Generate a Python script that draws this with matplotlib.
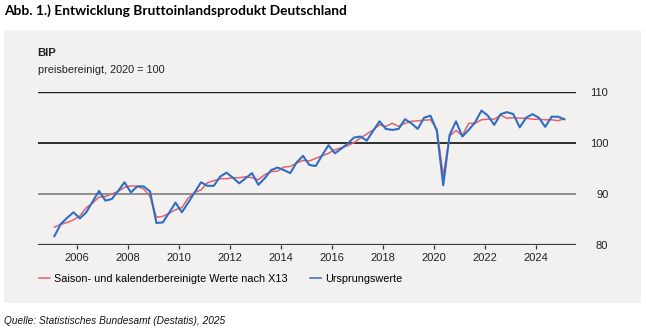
import matplotlib
matplotlib.use("Agg")
import matplotlib.pyplot as plt
from matplotlib.patches import Rectangle
from matplotlib.lines import Line2D
import numpy as np

# quarterly values 2005 Q1 - 2025 Q1, index 2020 = 100
start_year = 2005
orig_values = [
    81.7, 84.1, 85.3, 86.4,      # 2005
    85.2, 86.4, 88.5, 90.6,      # 2006
    88.7, 89.0, 90.6, 92.3,      # 2007
    90.3, 91.5, 91.5, 90.5,      # 2008
    84.3, 84.4, 86.3, 88.3,      # 2009
    86.4, 88.3, 90.3, 92.3,      # 2010
    91.6, 91.6, 93.4, 94.2,      # 2011
    93.2, 92.1, 93.1, 94.1,      # 2012
    91.8, 93.1, 94.7, 95.2,      # 2013
    94.7, 94.1, 96.2, 97.5,      # 2014
    95.7, 95.5, 97.6, 99.6,      # 2015
    98.0, 98.9, 99.9, 101.1,     # 2016
    101.3, 100.5, 102.4, 104.3,  # 2017
    102.8, 102.6, 102.8, 104.7,  # 2018
    103.9, 102.8, 105.0, 105.4,  # 2019
    102.4, 91.7, 101.6, 104.3,   # 2020
    101.3, 102.6, 104.1, 106.4,  # 2021
    105.4, 103.6, 105.7, 106.1,  # 2022
    105.7, 103.1, 105.0, 105.7,  # 2023
    105.0, 103.2, 105.2, 105.2,  # 2024
    104.7,                       # 2025
]
sa_values = [
    83.5, 84.0, 84.4, 84.9,      # 2005
    85.7, 87.3, 88.2, 89.4,      # 2006
    89.5, 90.0, 90.5, 91.3,      # 2007
    91.6, 91.5, 91.0, 89.5,      # 2008
    85.4, 85.6, 86.2, 86.9,      # 2009
    87.3, 89.2, 90.3, 90.8,      # 2010
    92.2, 92.6, 93.0, 93.0,      # 2011
    93.2, 93.2, 93.4, 93.2,      # 2012
    92.8, 93.8, 94.4, 94.5,      # 2013
    95.3, 95.4, 96.1, 96.6,      # 2014
    96.5, 97.0, 97.5, 98.0,      # 2015
    98.7, 99.1, 99.5, 100.1,     # 2016
    101.0, 101.8, 102.6, 103.6,  # 2017
    103.3, 103.9, 103.3, 103.9,  # 2018
    104.3, 104.4, 104.5, 104.6,  # 2019
    102.8, 93.6, 101.4, 102.5,   # 2020
    101.5, 103.9, 103.9, 104.6,  # 2021
    104.7, 104.7, 105.5, 104.9,  # 2022
    105.0, 104.9, 104.9, 104.7,  # 2023
    104.7, 104.6, 104.6, 104.4,  # 2024
    104.8,                       # 2025
]
x_ticks = list(range(2006, 2025, 2))
y_levels = [110, 100, 90, 80]

# position of each quarter (middle of the quarter)
t = start_year + np.arange(len(orig_values)) / 4 + 0.125

W, H = 646, 332
fig = plt.figure(figsize=(W / 100, H / 100), dpi=100)
fig.patch.set_facecolor("white")

# grey panel behind everything
fig.patches.append(Rectangle((4 / W, 1 - 302.7 / H), 637 / W, 272.7 / H,
                             transform=fig.transFigure, facecolor="#f2f1ef",
                             edgecolor="none", zorder=-10))

fig.text(4 / W, 1 - 11 / H, "Abb. 1.) Entwicklung Bruttoinlandsprodukt Deutschland",
         fontsize=9.9, fontweight="bold", family="Lato", va="center", ha="left")
fig.text(37.7 / W, 1 - 53 / H, "BIP", fontsize=8.2, fontweight="bold",
         family="Liberation Sans", va="center", color="#222222")
fig.text(37.7 / W, 1 - 70 / H, "preisbereinigt, 2020 = 100", fontsize=7.8,
         family="Liberation Sans", va="center", color="#222222")
fig.text(4 / W, 1 - 321 / H, "Quelle: Statistisches Bundesamt (Destatis), 2025",
         fontsize=7.3, style="italic", family="Liberation Sans",
         va="center", ha="left", color="#111111")

ax = fig.add_axes([37.7 / W, 1 - 244.8 / H, 538 / W, 152.5 / H])
ax.set_facecolor("none")
ax.set_zorder(1)
for s in ax.spines.values():
    s.set_visible(False)

line_styles = {110: ("#1e1e1e", 1.0), 100: ("#2e2e2e", 1.4),
               90: ("#8f8f8f", 1.4), 80: ("#3c3c3c", 1.6)}
for lev in y_levels:
    c, lw = line_styles[lev]
    ax.axhline(lev, color=c, lw=lw, zorder=1)

red = "#e2626f"
blue = "#2f6ec2"
ax.plot(t, sa_values, color=red, lw=1.1, zorder=2)
ax.plot(t, orig_values, color=blue, lw=1.5, zorder=3)

ax.set_xlim(2004.47, 2025.57)
ax.set_ylim(80, 110)

ax.set_xticks(x_ticks)
ax.set_xticklabels([str(y) for y in x_ticks])
ax.tick_params(axis="x", direction="out", length=2.6, width=0.9, color="#333333",
               pad=3, labelsize=8.0, labelcolor="#222222")

ax.set_yticks(y_levels)
ax.yaxis.tick_right()
ax.tick_params(axis="y", length=0, pad=23.5, labelsize=8.0, labelcolor="#222222")
for lab in ax.get_yticklabels():
    lab.set_horizontalalignment("right")
for lab in ax.get_xticklabels() + ax.get_yticklabels():
    lab.set_family("Liberation Sans")

handles = [Line2D([], [], color=red, lw=1.1), Line2D([], [], color=blue, lw=1.1)]
labels = ["Saison- und kalenderbereinigte Werte nach X13", "Ursprungswerte"]
fig.legend(handles, labels, loc="center left", bbox_to_anchor=(39 / W, 1 - 279 / H),
           ncol=2, frameon=False, borderpad=0, borderaxespad=0,
           handlelength=1.0, handletextpad=0.35, columnspacing=2.1,
           prop={"family": "Liberation Sans", "size": 7.85})

fig.savefig("out.png", dpi=100, facecolor="white")
